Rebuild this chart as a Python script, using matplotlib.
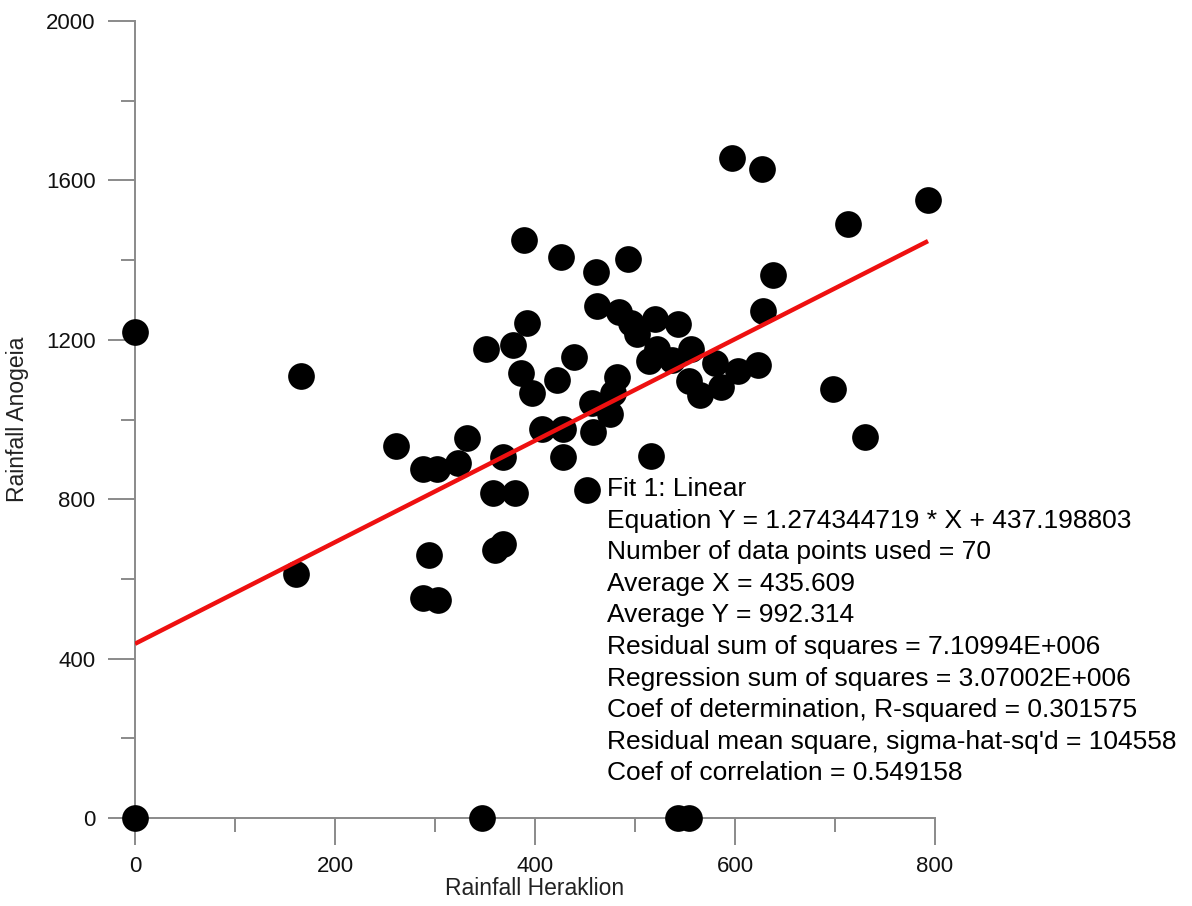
import matplotlib
matplotlib.use("Agg")
import matplotlib.pyplot as plt
from matplotlib.ticker import MultipleLocator
import numpy as np

plt.rcParams["font.family"] = ["Liberation Sans", "DejaVu Sans"]

# rainfall pairs (Heraklion, Anogeia)
heraklion = [
    0, 166, 161, 261, 0, 347, 543, 554,
    288, 302, 323, 332, 294, 288, 303,
    368, 358, 380, 360, 368,
    407, 428, 428, 452, 458, 457, 475, 478, 516,
    389, 392, 351, 378, 386, 397,
    597, 627, 426, 493, 461, 638,
    462, 628, 484, 496, 502, 520, 543,
    439, 422, 482, 514, 522, 537, 556,
    554, 565, 580, 586, 603, 623,
    713, 793, 698, 730,
]
anogeia = [
    1220, 1109, 612, 933, 0, 0, 0, 0,
    877, 875, 890, 953, 659, 551, 547,
    907, 816, 815, 673, 688,
    977, 976, 905, 823, 969, 1042, 1014, 1066, 909,
    1450, 1243, 1176, 1187, 1117, 1066,
    1655, 1628, 1409, 1403, 1369, 1363,
    1285, 1273, 1271, 1241, 1215, 1253, 1240,
    1156, 1098, 1106, 1146, 1178, 1150, 1176,
    1097, 1061, 1141, 1082, 1122, 1137,
    1490, 1550, 1077, 955,
]

slope = 1.274344719
intercept = 437.198803

fit_lines = [
    "Fit 1: Linear",
    "Equation Y = 1.274344719 * X + 437.198803",
    "Number of data points used = 70",
    "Average X = 435.609",
    "Average Y = 992.314",
    "Residual sum of squares = 7.10994E+006",
    "Regression sum of squares = 3.07002E+006",
    "Coef of determination, R-squared = 0.301575",
    "Residual mean square, sigma-hat-sq'd = 104558",
    "Coef of correlation = 0.549158",
]

axis_grey = "#8a8a8a"

fig = plt.figure(figsize=(11.92, 9.06), dpi=100)
ax = fig.add_axes([135 / 1192, 88 / 906, 800 / 1192, 797 / 906])

x = np.array(heraklion)
y = np.array(anogeia)

ax.scatter(x, y, s=370, color="black", linewidths=0, zorder=3, clip_on=False)

xl = np.array([x.min(), x.max()])
ax.plot(xl, slope * xl + intercept, color="#ee1010", lw=3.2, zorder=4,
        solid_capstyle="butt")

ax.set_xlim(0, 800)
ax.set_ylim(0, 2000)

for side in ("top", "right"):
    ax.spines[side].set_visible(False)
for side in ("left", "bottom"):
    ax.spines[side].set_color(axis_grey)
    ax.spines[side].set_linewidth(1.4)

ax.xaxis.set_major_locator(MultipleLocator(200))
ax.xaxis.set_minor_locator(MultipleLocator(100))
ax.yaxis.set_major_locator(MultipleLocator(400))
ax.yaxis.set_minor_locator(MultipleLocator(200))

ax.tick_params(which="major", length=19.5, width=1.4, color=axis_grey,
               labelsize=16, labelcolor="#111111")
ax.tick_params(which="minor", length=10, width=1.4, color=axis_grey)
ax.tick_params(axis="y", which="major", pad=9)
ax.tick_params(axis="x", which="major", pad=8)

ax.set_xlabel("Rainfall Heraklion", fontsize=16.5, color="#222222", labelpad=0)
ax.set_ylabel("Rainfall Anogeia", fontsize=16.5, color="#222222", labelpad=12)

# regression summary block, one line every ~31.6 px
for i, line in enumerate(fit_lines):
    fig.text(607 / 1192, 1 - (489 + 31.6 * i) / 906, line,
             fontsize=19, color="black", ha="left", va="center")

fig.savefig("out.png", dpi=100, facecolor="white")
